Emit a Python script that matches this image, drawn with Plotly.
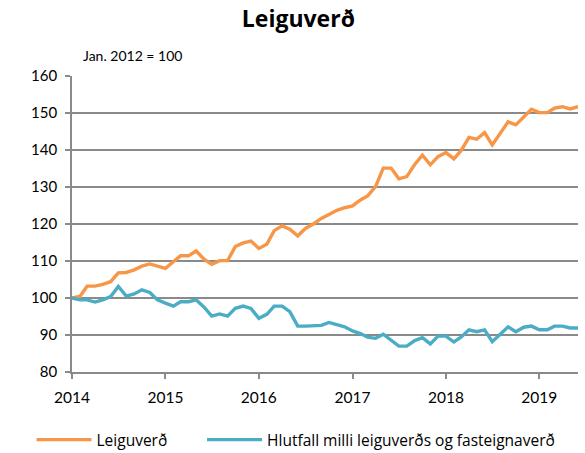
import pandas as pd
import plotly.graph_objects as go

# Monthly index values, Jan 2014 - Jun 2019
leiguverd = [100.0, 100.4, 103.2, 103.2, 103.7, 104.4, 106.8, 106.9, 107.6, 108.6,
             109.2, 108.6, 108.0, 109.8, 111.4, 111.4, 112.7, 110.5, 109.1, 110.1,
             110.1, 113.9, 114.9, 115.4, 113.4, 114.5, 118.2, 119.5, 118.6, 116.8,
             118.8, 120.0, 121.5, 122.6, 123.7, 124.4, 124.9, 126.5, 127.6, 130.1,
             135.1, 135.1, 132.2, 132.8, 136.1, 138.6, 136.0, 138.2, 139.3, 137.6,
             139.8, 143.4, 142.9, 144.7, 141.4, 144.5, 147.6, 146.8, 149.0, 151.0,
             150.1, 150.1, 151.3, 151.7, 151.1, 151.7]

hlutfall = [100.0, 99.5, 99.5, 98.9, 99.5, 100.4, 103.1, 100.5, 101.1, 102.2,
            101.5, 99.5, 98.6, 97.8, 99.0, 99.0, 99.5, 97.5, 95.1, 95.7,
            95.1, 97.2, 97.8, 97.2, 94.5, 95.6, 97.8, 97.8, 96.3, 92.4,
            92.4, 92.4, 92.6, 93.4, 92.8, 92.2, 91.1, 90.4, 89.4, 89.1,
            90.2, 88.5, 87.0, 87.0, 88.5, 89.3, 87.6, 89.7, 89.7, 88.1,
            89.4, 91.4, 90.9, 91.4, 88.2, 90.2, 92.2, 90.9, 92.1, 92.4,
            91.4, 91.4, 92.4, 92.4, 91.9, 91.9]

months = pd.date_range("2014-01-01", periods=len(leiguverd), freq="MS")
year_ticks = pd.date_range("2014-01-01", "2019-01-01", freq="YS")
year_labels = ["2014", "2015", "2016", "2017", "2018", "2019"]
y_ticks = [80, 90, 100, 110, 120, 130, 140, 150, 160]

name_a = "Leiguverð"
name_b = "Hlutfall milli leiguverðs og fasteignaverð"

ORANGE = "#F79646"
TEAL = "#4BACC6"
GRID = "#8A8A8A"
FONT = "Lato, 'Open Sans', sans-serif"
LEG_FONT = "'Open Sans', Lato, sans-serif"

fig = go.Figure()
fig.add_trace(go.Scatter(x=months, y=leiguverd, mode="lines", name=name_a,
                         legend="legend",
                         line=dict(color=ORANGE, width=3.4)))
fig.add_trace(go.Scatter(x=months, y=hlutfall, mode="lines", name=name_b,
                         legend="legend2",
                         line=dict(color=TEAL, width=3.4)))

leg_common = dict(orientation="h", xref="paper", yref="paper", xanchor="left",
                  y=-0.23, yanchor="middle", itemwidth=55,
                  font=dict(family=LEG_FONT, size=15.5, color="#000000"),
                  bgcolor="rgba(0,0,0,0)")

fig.update_layout(
    width=585, height=453,
    margin=dict(l=72, r=7, t=76, b=81, autoexpand=False),
    paper_bgcolor="white", plot_bgcolor="white",
    font=dict(family=FONT, size=13, color="#000000"),
    title=dict(text="<b>Leiguverð</b>", xref="container", x=0.51, xanchor="center",
               yref="container", y=0.958, yanchor="middle",
               font=dict(family="'Open Sans', sans-serif", size=23, color="#000000")),
    showlegend=True,
    legend=dict(x=-0.08, **leg_common),
    legend2=dict(x=0.257, **leg_common),
    annotations=[dict(text="Jan. 2012 = 100", xref="paper", yref="paper",
                      x=0.018, y=1.07, xanchor="left", yanchor="middle", showarrow=False,
                      font=dict(family=FONT, size=14, color="#000000"))],
)

fig.update_xaxes(
    type="date", range=[months[0], months[-1]],
    tickvals=year_ticks, ticktext=year_labels,
    showgrid=False, zeroline=False,
    showline=True, linecolor=GRID, linewidth=1.6,
    ticks="outside", ticklen=5, tickcolor=GRID, tickwidth=1.6,
    ticklabelstandoff=6,
    tickfont=dict(family=FONT, size=15.5, color="#000000"),
)
fig.update_yaxes(
    range=[80, 160], tickvals=y_ticks,
    showgrid=True, gridcolor=GRID, gridwidth=1.6, zeroline=False,
    showline=True, linecolor=GRID, linewidth=1.6,
    ticks="outside", ticklen=5, tickcolor=GRID, tickwidth=1.6,
    ticklabelstandoff=5,
    tickfont=dict(family=FONT, size=15, color="#000000"),
)

fig.write_html("out.html", config={"displayModeBar": False},
               post_script="document.body.style.margin='0';")
